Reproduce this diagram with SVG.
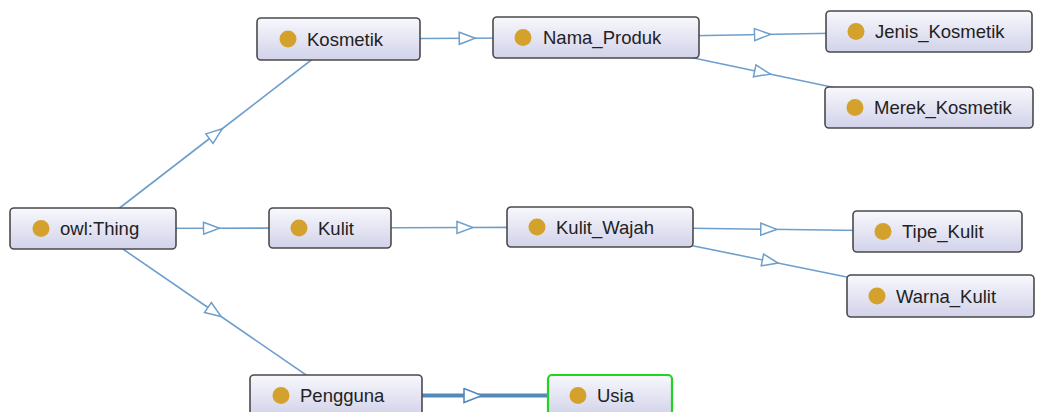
<svg xmlns="http://www.w3.org/2000/svg" width="1038" height="412" viewBox="0 0 1038 412">
<style>
.box{fill:url(#g);stroke:#4a4a4a;stroke-width:1.6}
.sel{fill:url(#g);stroke:#22d422;stroke-width:2.2}
.dot{fill:#d4a22c}
.lbl{font-family:"Liberation Sans",Arial,sans-serif;font-size:18.5px;fill:#222}
.e{fill:none;stroke:#6e9fcc;stroke-width:1.6;marker-mid:url(#tri)}
.eb{fill:none;stroke:#5588bb;stroke-width:4;marker-mid:url(#trib)}
</style>
<defs>
<linearGradient id="g" x1="0" y1="0" x2="0" y2="1">
<stop offset="0" stop-color="#f8f8fd"/>
<stop offset="1" stop-color="#d2d2ea"/>
</linearGradient>
<marker id="tri" viewBox="-1 -8 19 16" markerWidth="19" markerHeight="16" refX="8" refY="0" orient="auto" markerUnits="userSpaceOnUse">
<path d="M0,-6 L16,0 L0,6 Z" fill="#fff" stroke="#6e9fcc" stroke-width="1.5"/>
</marker>
<marker id="trib" viewBox="-1 -8 21 16" markerWidth="21" markerHeight="16" refX="9" refY="0" orient="auto" markerUnits="userSpaceOnUse">
<path d="M0,-7 L18,0 L0,7 Z" fill="#fff" stroke="#5588bb" stroke-width="1.6"/>
</marker>
</defs>
<g id="connectors">
<polyline class="e" points="93,228.5 215.75,133.75 338.5,39"/>
<polyline class="e" points="93,228.5 211.5,228.25 330,228"/>
<polyline class="e" points="93,228.5 214.5,312 336,395.5"/>
<polyline class="e" points="338.5,39 467.25,38.25 596,37.5"/>
<polyline class="e" points="596,37.5 762.5,34.5 929,31.5"/>
<polyline class="e" points="596,37.5 762.5,72.5 929,107.5"/>
<polyline class="e" points="330,228 465,227.5 600,227"/>
<polyline class="e" points="600,227 768.75,229.25 937.5,231.5"/>
<polyline class="e" points="600,227 770.25,261.5 940.5,296"/>
<polyline class="eb" points="336,395.5 473,395.5 610,395.5"/>
</g>
<g id="owl_Thing"><rect class="box" x="10" y="208" width="166" height="41" rx="4"/><circle class="dot" cx="41" cy="228.5" r="8.5"/><text class="lbl" x="60" y="235">owl:Thing</text></g>
<g id="Kosmetik"><rect class="box" x="257" y="18" width="163" height="42" rx="4"/><circle class="dot" cx="288" cy="39" r="8.5"/><text class="lbl" x="307" y="45.5">Kosmetik</text></g>
<g id="Nama_Produk"><rect class="box" x="493" y="17" width="206" height="41" rx="4"/><circle class="dot" cx="523" cy="37.5" r="8.5"/><text class="lbl" x="543" y="44">Nama_Produk</text></g>
<g id="Jenis_Kosmetik"><rect class="box" x="826" y="11" width="206" height="41" rx="4"/><circle class="dot" cx="856" cy="31.5" r="8.5"/><text class="lbl" x="875" y="38">Jenis_Kosmetik</text></g>
<g id="Merek_Kosmetik"><rect class="box" x="825" y="87" width="208" height="41" rx="4"/><circle class="dot" cx="855" cy="107.5" r="8.5"/><text class="lbl" x="874" y="114">Merek_Kosmetik</text></g>
<g id="Kulit"><rect class="box" x="269" y="208" width="122" height="40" rx="4"/><circle class="dot" cx="299" cy="228" r="8.5"/><text class="lbl" x="318" y="234.5">Kulit</text></g>
<g id="Kulit_Wajah"><rect class="box" x="507" y="207" width="186" height="40" rx="4"/><circle class="dot" cx="537" cy="227" r="8.5"/><text class="lbl" x="556" y="233.5">Kulit_Wajah</text></g>
<g id="Tipe_Kulit"><rect class="box" x="853" y="211" width="169" height="41" rx="4"/><circle class="dot" cx="883" cy="231.5" r="8.5"/><text class="lbl" x="902" y="238">Tipe_Kulit</text></g>
<g id="Warna_Kulit"><rect class="box" x="847" y="275" width="187" height="42" rx="4"/><circle class="dot" cx="877" cy="296" r="8.5"/><text class="lbl" x="896" y="302.5">Warna_Kulit</text></g>
<g id="Pengguna"><rect class="box" x="250" y="375" width="172" height="41" rx="4"/><circle class="dot" cx="281" cy="395.5" r="8.5"/><text class="lbl" x="300" y="402">Pengguna</text></g>
<g id="Usia"><rect class="sel" x="548" y="375" width="124" height="41" rx="4"/><circle class="dot" cx="578" cy="395.5" r="8.5"/><text class="lbl" x="597" y="402">Usia</text></g>
</svg>
